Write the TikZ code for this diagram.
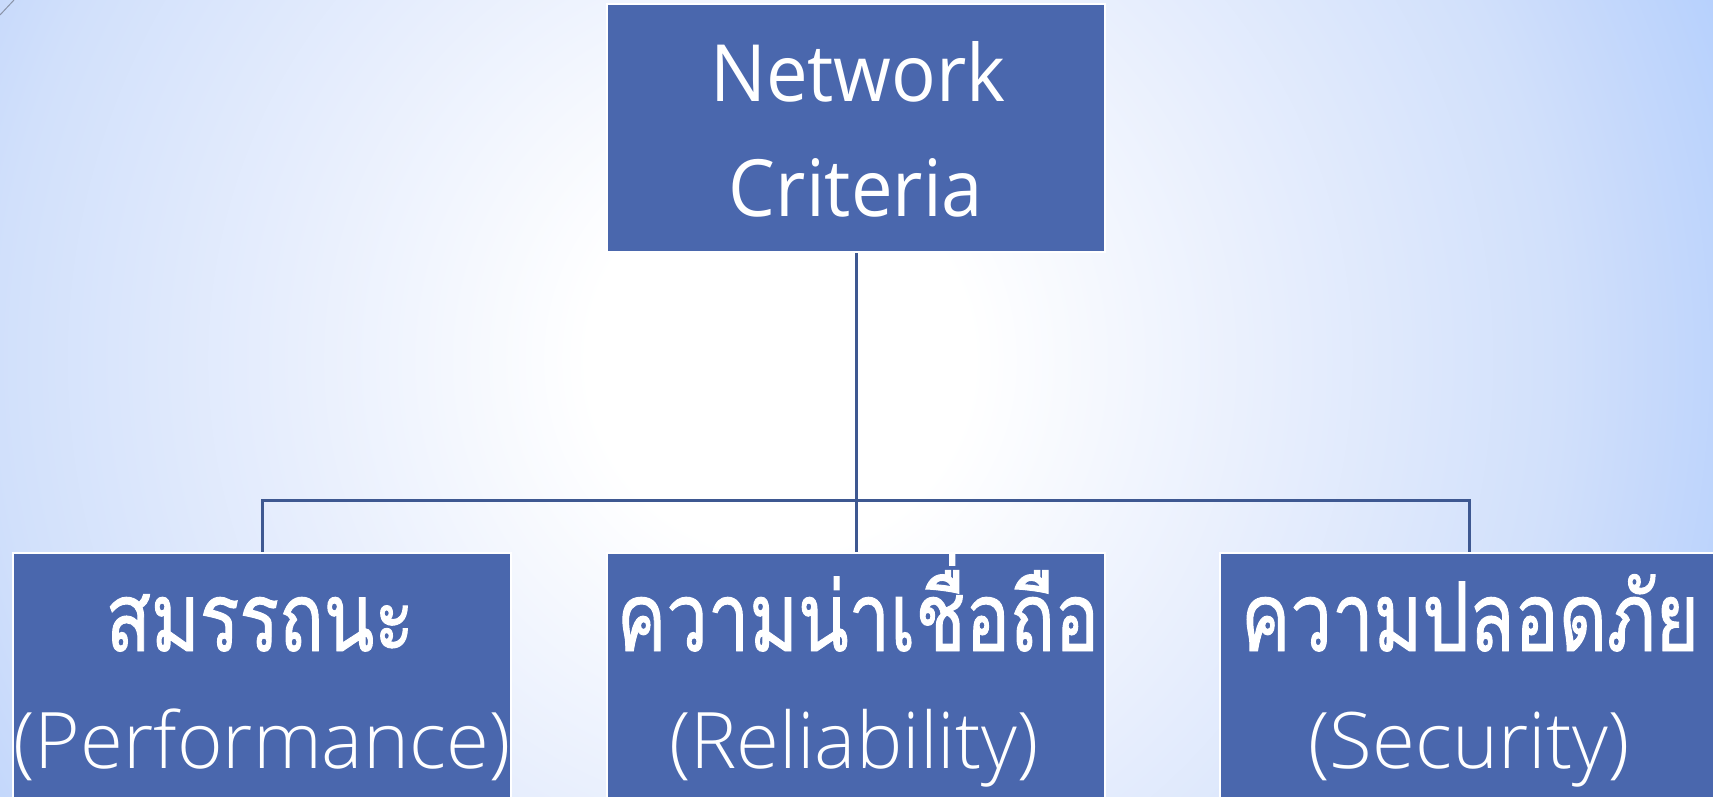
\documentclass[tikz,border=0pt]{standalone}
\usepackage{fontspec}
\setmainfont[FakeStretch=0.94]{Open Sans}
\newfontfamily\thaifont[Script=Thai, FakeStretch=0.77, FakeBold=1.0]{Loma}
\IfFontExistsTF{Open Sans Light}
  {\newfontfamily\latinlight{Open Sans Light}}
  {\newfontfamily\latinlight{Open Sans}}

\definecolor{boxblue}{HTML}{4A67AD}
\definecolor{connblue}{HTML}{3E5891}
\definecolor{bgA}{HTML}{E7EEFD}
\definecolor{bgB}{HTML}{D1E0FB}
\definecolor{bgC}{HTML}{C8DAFB}
\definecolor{bgD}{HTML}{B7D1FD}
\definecolor{bgE}{HTML}{B3CFFD}
\definecolor{cornerline}{HTML}{8A93A8}

% soft radial glow behind the chart, at its natural size
\pgfdeclareradialshading{bgglow}{\pgfpoint{0bp}{0bp}}{%
  color(0bp)=(white); color(95bp)=(white); color(250bp)=(bgA);
  color(390bp)=(bgB); color(428bp)=(bgC); color(498bp)=(bgD); color(525bp)=(bgE)}

\tikzset{
  box/.style={draw=white, line width=1.25pt, fill=boxblue,
    minimum width=249pt, minimum height=124pt, inner sep=0pt, anchor=center},
  conn/.style={draw=connblue, line width=1.5pt},
  toptext/.style={text=white, inner sep=0pt, anchor=base,
    font=\fontsize{39.5}{48}\selectfont},
  thtext/.style={text=white, inner sep=0pt, anchor=base,
    font=\thaifont\fontsize{48}{56}\selectfont},
  entext/.style={text=white, inner sep=0pt, anchor=base,
    font=\latinlight\fontsize{39}{46}\selectfont},
}

\begin{document}
\begin{tikzpicture}[x=0.5pt,y=-0.5pt]
  \useasboundingbox (0,0) rectangle (1713,797);
  \begin{scope}
    \clip (0,0) rectangle (1713,797);
    \node[inner sep=0pt, outer sep=0pt] (glow) at (780,360) {\pgfuseshading{bgglow}};
    \draw[cornerline, line width=0.5pt] (0,15) -- (14,0);
  \end{scope}

  % boxes
  \node[box] (top)  at (856,128) {};
  \node[box] (perf) at (262,677) {};
  \node[box] (rel)  at (856,677) {};
  \node[box] (sec)  at (1469,677) {};

  % connectors
  \coordinate (bar) at (856,500);
  \draw[conn] (top.south) -- (rel.north);
  \draw[conn] (perf.north) |- (bar) -| (sec.north);

  % labels
  \node[toptext] (topA) at (858,102) {Network};
  \node[toptext] (topB) at (856,216) {Criteria};

  \node[thtext] (perfA) at (260,651) {สมรรถนะ};
  \node[entext] (perfB) at (262,768) {(Performance)};

  \node[thtext] (relA) at (858,651) {ความน่าเชื่อถือ};
  \node[entext] (relB) at (854,768) {(Reliability)};

  \node[thtext] (secA) at (1470,651) {ความปลอดภัย};
  \node[entext] (secB) at (1469,768) {(Security)};
\end{tikzpicture}
\end{document}
